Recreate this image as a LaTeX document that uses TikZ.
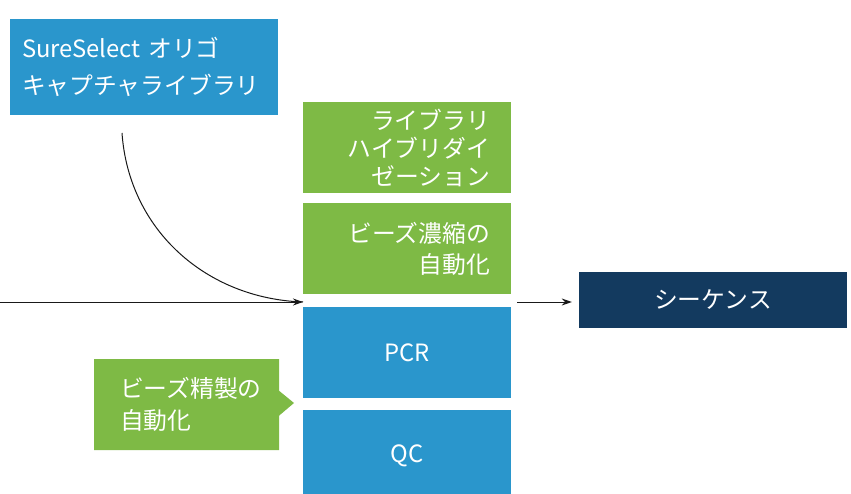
\documentclass[tikz,border=0pt]{standalone}
\usepackage{fontspec}
\setmainfont{Noto Sans CJK JP}
\usepackage{tikz}
\usetikzlibrary{arrows.meta}
\usetikzlibrary{shapes.callouts}
\definecolor{stepblue}{HTML}{2A96CC}
\definecolor{stepgreen}{HTML}{7EBA45}
\definecolor{stepnavy}{HTML}{133A5F}
\tikzset{%
  flowbox/.style={rectangle,draw=none,text=white,inner xsep=12pt,inner ysep=0pt,
    font={\fontsize{23.8pt}{29pt}\selectfont}},
  bluebox/.style={flowbox,fill=stepblue},
  greenbox/.style={flowbox,fill=stepgreen},
  flowarrow/.style={-{Stealth[length=10pt,width=7pt]},line width=1pt,black!90}
}

\begin{document}
\begin{tikzpicture}[x=1pt,y=-1pt]
            \useasboundingbox (0,0) rectangle (851,494);
            \node[bluebox,minimum width=268pt,minimum height=96pt,text width=244pt,align=left,
                font={\fontsize{23.8pt}{37pt}\selectfont}](capture) at (144,67)
                {SureSelect オリゴ\\キャプチャライブラリ};
            \node[greenbox,minimum width=208pt,minimum height=91pt,inner xsep=21pt,text width=166pt,align=right,
                font={\fontsize{23.8pt}{28pt}\selectfont}](hyb) at (407,147.5)
                {ライブラリ\\ハイブリダイ\\ゼーション};
            \node[greenbox,minimum width=208pt,minimum height=91pt,inner xsep=21pt,text width=166pt,align=right,
                font={\fontsize{23.8pt}{31pt}\selectfont}](enrich) at (407,248.5)
                {ビーズ濃縮の\\自動化};
            \node[bluebox,minimum width=208pt,minimum height=91pt,align=center](pcr) at (407,352.5) {PCR};
            \node[bluebox,minimum width=208pt,minimum height=91pt,align=center](qc) at (407,455.5) {QC};
            \node[flowbox,fill=stepnavy,minimum width=268pt,minimum height=56pt](seq) at (713,300) {シーケンス};
            \node[greenbox,rectangle callout,callout absolute pointer={(294,403)},callout pointer width=25pt,
                minimum width=185pt,minimum height=91pt,inner xsep=26pt,text width=133pt,align=left,
                font={\fontsize{23.8pt}{32pt}\selectfont}](purify) at (186.5,404.5)
                {ビーズ精製の\\自動化};
            \coordinate (inlet) at (0,302);
            \coordinate (merge) at (303,302);
            \coordinate (curvestart) at (122,133);
            \coordinate (outlet) at (517,302);
            \draw[flowarrow] (inlet) -- (merge);
            \draw[line width=1pt,black!90] (curvestart) to[out=-86,in=178] (merge);
            \draw[flowarrow,shorten >=7pt] (outlet) -- (outlet -| seq.west);
        \end{tikzpicture}
\end{document}
